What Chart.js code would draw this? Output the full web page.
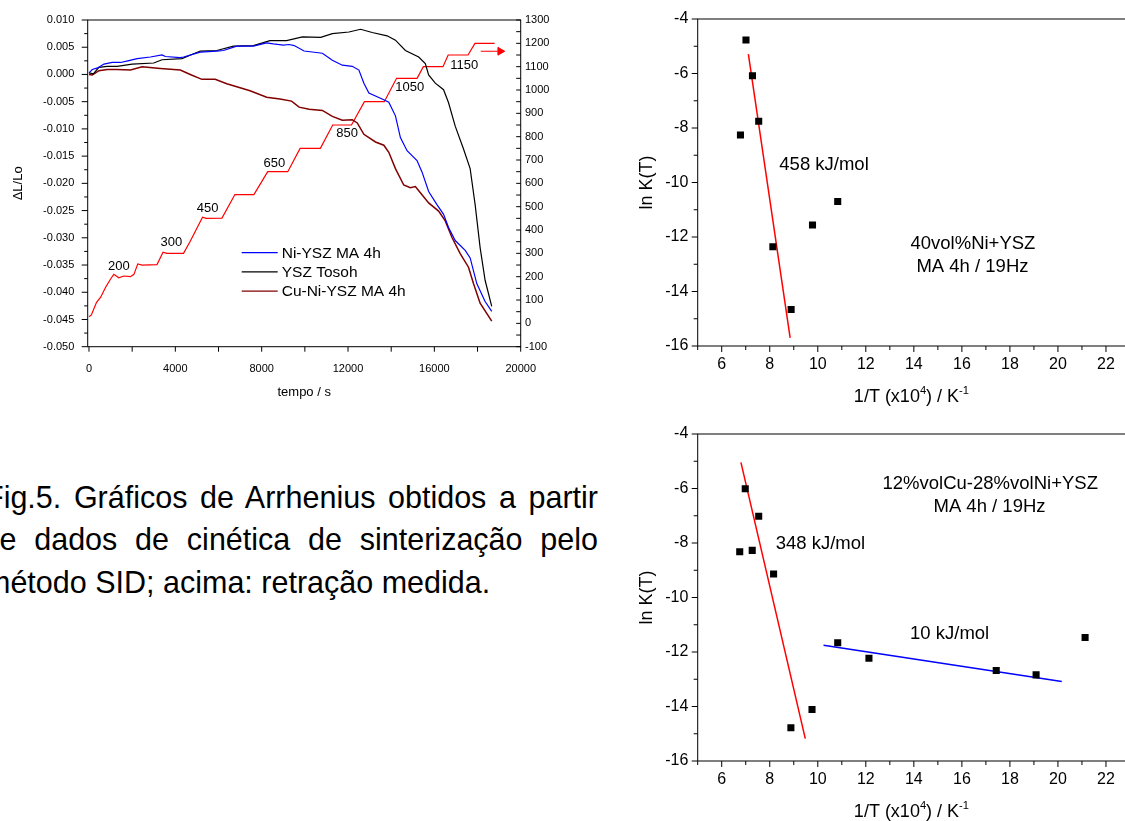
<!DOCTYPE html>
<html>
<head>
<meta charset="utf-8">
<script src="https://cdn.jsdelivr.net/npm/chart.js@4.4.1/dist/chart.umd.min.js"></script>
<style>
  html, body { margin: 0; padding: 0; background: #fff; overflow: hidden; width: 1125px; height: 821px; }
  canvas { position: absolute; }
  #shrink { left: 0; top: 0; }
  #arrTop { left: 620px; top: 0; }
  #arrBot { left: 620px; top: 415px; }
  .cap { position: absolute; left: -15px; width: 613px; font-family: "Liberation Sans", Arial, sans-serif;
         font-size: 30.5px; line-height: 42.5px; color: #000; text-align: justify; }
  .cap.j { text-align-last: justify; }
</style>
</head>
<body>
<canvas id="shrink" width="560" height="410"></canvas>
<canvas id="arrTop" width="520" height="415"></canvas>
<canvas id="arrBot" width="520" height="415"></canvas>
<div class="cap j" style="top:475.75px">Fig.5. Gráficos de Arrhenius obtidos a partir</div>
<div class="cap j" style="top:518.25px;left:-17.5px;width:615.5px">de dados de cinética de sinterização pelo</div>
<div class="cap" style="top:560.75px">método SID; acima: retração medida.</div>

<script>
// dilatometry (left panel)
const niTime = [0, 154, 400, 692, 1077, 1461, 1800, 2230, 2845, 3384, 3538, 4230, 4384, 5153, 5922, 6230, 6845, 7615, 8230, 8538, 9000, 9274, 9505, 9966, 10812, 11274, 11735, 12197, 12504, 12735, 12966, 13582, 13889, 14197, 14427, 14735, 15197, 15427, 15735, 16120, 16427, 16658, 16966, 17428, 17658, 17966, 18351, 18658];
const niShrink = [0.0003, 0.0009, 0.0012, 0.0019, 0.0022, 0.0022, 0.0025, 0.0029, 0.0032, 0.0036, 0.0033, 0.0031, 0.0032, 0.0041, 0.0043, 0.0044, 0.0052, 0.0052, 0.0058, 0.0056, 0.0054, 0.0055, 0.0053, 0.0043, 0.0039, 0.0026, 0.0017, 0.0015, 0.0008, -0.0016, -0.0034, -0.0045, -0.0051, -0.0076, -0.0116, -0.0140, -0.0158, -0.0179, -0.0215, -0.0239, -0.0257, -0.0281, -0.0305, -0.0323, -0.0337, -0.0384, -0.0417, -0.0435];

const yszTime = [0, 200, 461, 846, 1307, 2000, 3000, 3384, 4307, 5153, 5922, 6692, 7615, 8384, 9153, 9889, 10735, 11274, 12043, 12581, 13120, 13812, 14197, 14658, 15274, 15581, 15735, 16043, 16427, 16658, 16966, 17351, 17658, 17889, 18120, 18351, 18658];
const yszShrink = [0.0003, 0.0001, 0.0013, 0.0015, 0.0015, 0.0019, 0.0021, 0.0027, 0.0029, 0.0043, 0.0044, 0.0052, 0.0053, 0.0062, 0.0062, 0.0069, 0.0068, 0.0075, 0.0078, 0.0083, 0.0077, 0.0071, 0.0063, 0.0044, 0.0032, 0.0020, -0.0001, -0.0016, -0.0028, -0.0052, -0.0095, -0.0137, -0.0173, -0.0239, -0.0318, -0.0378, -0.0426];

const cuTime = [0, 154, 461, 846, 1300, 1923, 2461, 3307, 4230, 4692, 5230, 5845, 6384, 7461, 8230, 8845, 9384, 9735, 10197, 10812, 11274, 11735, 12197, 12428, 12735, 13274, 13659, 13889, 14197, 14581, 14889, 15120, 15427, 15735, 16197, 16504, 16812, 17197, 17581, 17812, 18120, 18658];
const cuShrink = [0.0000, -0.0001, 0.0007, 0.0009, 0.0009, 0.0008, 0.0014, 0.0011, 0.0008, 0.0000, -0.0009, -0.0009, -0.0017, -0.0030, -0.0042, -0.0045, -0.0049, -0.0060, -0.0064, -0.0066, -0.0077, -0.0084, -0.0083, -0.0089, -0.0110, -0.0124, -0.0130, -0.0143, -0.0173, -0.0203, -0.0208, -0.0206, -0.0221, -0.0236, -0.0251, -0.0269, -0.0299, -0.0329, -0.0354, -0.0384, -0.0420, -0.0453];

const tempTime = [0, 110, 350, 540, 770, 1000, 1150, 1380, 1610, 1920, 2080, 2260, 2460, 3150, 3430, 3610, 4380, 4690, 5260, 5430, 6160, 6760, 7640, 8280, 9210, 9780, 10720, 11290, 12160, 12760, 13680, 14250, 15200, 15490, 16400, 16640, 17560, 17880, 18790];
const tempValue = [28, 36, 90, 112, 155, 190, 210, 195, 203, 200, 210, 255, 250, 252, 305, 300, 300, 352, 455, 450, 451, 552, 552, 650, 650, 750, 750, 850, 850, 950, 950, 1050, 1050, 1100, 1100, 1150, 1150, 1200, 1200];
const arrowTime = [18150, 19050];
const arrowTemp = [1166, 1166];

const stepLabels = ['200', '300', '450', '650', '850', '1050', '1150'];
const stepLabelTime = [1386, 3815, 5500, 8590, 11960, 14860, 17380];
const stepLabelTemp = [243, 346, 494, 686, 816, 1010, 1105];

// Arrhenius plots (right panels)
const niInvT = [7.01, 7.28, 7.54, 6.78, 8.13, 8.89, 9.78, 10.83];
const niLnK = [-4.77, -6.08, -7.75, -8.26, -12.36, -14.66, -11.56, -10.70];
const niFitInvT = [7.11, 8.85];
const niFitLnK = [-5.29, -15.70];

const cuInvT = [6.98, 7.54, 6.75, 7.27, 8.16, 8.88, 9.76, 10.83, 12.13, 17.43, 19.09, 21.13];
const cuLnK = [-6.01, -7.02, -8.32, -8.27, -9.14, -14.78, -14.11, -11.66, -12.23, -12.68, -12.84, -11.47];
const cuFitHighInvT = [6.80, 9.48];
const cuFitHighLnK = [-5.04, -15.18];
const cuFitLowInvT = [10.24, 20.16];
const cuFitLowLnK = [-11.75, -13.08];

const FONT = "'Liberation Sans', Arial, sans-serif";
Chart.defaults.font.family = FONT;
Chart.defaults.color = '#000';

const pairs = (xs, ys) => xs.map((x, i) => ({ x: x, y: ys[i] }));
const range = (a, b, step) => { const out = []; for (let v = a; v <= b + 1e-9; v += step) out.push(Math.round(v * 1e6) / 1e6); return out; };

// text with raised small parts, e.g. 10^4
function richText(ctx, parts, cx, cy, size) {
  const sub = size * 0.62;
  let w = 0;
  parts.forEach(p => { ctx.font = (p.sup ? sub : size) + 'px ' + FONT; w += ctx.measureText(p.t).width; });
  let x = cx - w / 2;
  ctx.textAlign = 'left';
  parts.forEach(p => {
    ctx.font = (p.sup ? sub : size) + 'px ' + FONT;
    ctx.fillText(p.t, x, p.sup ? cy - size * 0.36 : cy);
    x += ctx.measureText(p.t).width;
  });
}

// frame + outward/inward tick marks + free text, all placed through the chart scales
function decor(marks, notes, extra) {
  return {
    id: 'decor',
    afterDraw(chart) {
      const ctx = chart.ctx, a = chart.chartArea;
      ctx.save();
      ctx.strokeStyle = '#000';
      ctx.lineWidth = 1;
      ctx.strokeRect(a.left, a.top, a.right - a.left, a.bottom - a.top);
      marks.forEach(m => {
        const s = chart.scales[m.id];
        m.values.forEach(v => {
          const p = s.getPixelForValue(v);
          ctx.beginPath();
          if (s.position === 'bottom') { ctx.moveTo(p, a.bottom); ctx.lineTo(p, a.bottom + m.len); }
          else if (s.position === 'left') { ctx.moveTo(a.left, p); ctx.lineTo(a.left - m.len, p); }
          else { ctx.moveTo(a.right, p); ctx.lineTo(a.right + m.len, p); }
          ctx.stroke();
        });
      });
      ctx.fillStyle = '#000';
      ctx.textAlign = 'center';
      ctx.textBaseline = 'middle';
      notes.forEach(n => {
        ctx.font = n.size + 'px ' + FONT;
        ctx.fillText(n.text, chart.scales[n.xs].getPixelForValue(n.x), chart.scales[n.ys].getPixelForValue(n.y));
      });
      if (extra) extra(ctx, chart);
      ctx.restore();
    }
  };
}

// ---------- left: shrinkage + temperature ----------
const shrinkNotes = stepLabels.map((t, i) => ({ text: t, x: stepLabelTime[i], y: stepLabelTemp[i], xs: 'x', ys: 'yT', size: 13 }));
const legendItems = [['Ni-YSZ MA 4h', '#0000ff'], ['YSZ Tosoh', '#000000'], ['Cu-Ni-YSZ MA 4h', '#800000']];

new Chart(document.getElementById('shrink'), {
  type: 'scatter',
  data: {
    datasets: [
      { label: 'Ni-YSZ MA 4h', data: pairs(niTime, niShrink), borderColor: '#0000ff', yAxisID: 'y' },
      { label: 'YSZ Tosoh', data: pairs(yszTime, yszShrink), borderColor: '#000000', yAxisID: 'y' },
      { label: 'Cu-Ni-YSZ MA 4h', data: pairs(cuTime, cuShrink), borderColor: '#800000', borderWidth: 1.5, yAxisID: 'y' },
      { label: 'T', data: pairs(tempTime, tempValue), borderColor: '#ff0000', yAxisID: 'yT' },
      { label: 'arrow', data: pairs(arrowTime, arrowTemp), borderColor: '#ff0000', backgroundColor: '#ff0000',
        yAxisID: 'yT', pointRadius: [0, 4.5], pointStyle: 'triangle', pointRotation: 90, pointBorderWidth: 1 }
    ].map(d => Object.assign({ showLine: true, pointRadius: 0, borderWidth: 1.2 }, d))
  },
  options: {
    responsive: false, animation: false, devicePixelRatio: 1,
    layout: { padding: { top: 15, left: 0, right: 0, bottom: 0 } },
    plugins: { legend: { display: false }, tooltip: { enabled: false } },
    scales: {
      x: {
        type: 'linear', position: 'bottom', min: -60, max: 20000,
        afterBuildTicks: s => { s.ticks = range(0, 20000, 4000).map(v => ({ value: v })); },
        afterFit: s => { s.height = 63.3; },
        grid: { display: false, drawTicks: false }, border: { display: false },
        ticks: { font: { size: 11 }, padding: 15.5, maxRotation: 0, autoSkip: false, callback: v => String(v) },
        title: { display: true, text: 'tempo / s', font: { size: 13 }, padding: { top: 0, bottom: 10.2 } }
      },
      y: {
        type: 'linear', position: 'left', min: -0.05, max: 0.01,
        afterBuildTicks: s => { s.ticks = range(-50, 10, 5).map(v => ({ value: v / 1000 })); },
        afterFit: s => { s.width = 87.7; },
        grid: { display: false, drawTicks: false }, border: { display: false },
        ticks: { font: { size: 11 }, padding: 13.4, autoSkip: false,
                 callback: v => Math.abs(v) < 1e-9 ? '0.000' : v.toFixed(3) },
        title: { display: true, text: 'ΔL/Lo', font: { size: 13 }, padding: { top: 10.2, bottom: 0 } }
      },
      yT: {
        type: 'linear', position: 'right', min: -100, max: 1300,
        afterBuildTicks: s => { s.ticks = range(-100, 1300, 100).map(v => ({ value: v })); },
        afterFit: s => { s.width = 39.3; },
        grid: { display: false, drawTicks: false }, border: { display: false },
        ticks: { font: { size: 11 }, padding: 4.3, autoSkip: false, callback: v => String(v) }
      }
    }
  },
  plugins: [decor([
    { id: 'x', values: range(0, 20000, 2000), len: 5 },
    { id: 'y', values: range(-50, 10, 5).map(v => v / 1000), len: 6 },
    { id: 'y', values: range(-47.5, 7.5, 5).map(v => v / 1000), len: 3.5 },
    { id: 'yT', values: range(-100, 1300, 50), len: -4.5 }
  ], shrinkNotes, (ctx) => {
    ctx.font = '15.5px ' + FONT;
    ctx.textAlign = 'left';
    legendItems.forEach((it, i) => {
      const y = 252.7 + i * 19.2;
      ctx.strokeStyle = it[1];
      ctx.lineWidth = 1.2;
      ctx.beginPath(); ctx.moveTo(241.7, y); ctx.lineTo(277.7, y); ctx.stroke();
      ctx.fillStyle = '#000';
      ctx.fillText(it[0], 281.7, y + 1);
    });
  })]
});

// ---------- right: Arrhenius plots ----------
const invTTitle = [{ t: '1/T (x10' }, { t: '4', sup: true }, { t: ') / K' }, { t: '-1', sup: true }];

function arrhenius(id, invT, lnK, fits, notes) {
  const datasets = [{ label: 'ln K', data: pairs(invT, lnK), pointStyle: 'rect', pointRadius: 5,
                      backgroundColor: '#000', borderColor: '#000', borderWidth: 0, showLine: false }];
  fits.forEach(f => datasets.push({ label: f.label, data: pairs(f.xs, f.ys), borderColor: f.color,
                                   borderWidth: 1.5, pointRadius: 0, showLine: true }));
  new Chart(document.getElementById(id), {
    type: 'scatter',
    data: { datasets: datasets },
    options: {
      responsive: false, animation: false, devicePixelRatio: 1,
      layout: { padding: { top: 15.3, left: 0, right: 10, bottom: 0 } },
      plugins: { legend: { display: false }, tooltip: { enabled: false } },
      scales: {
        x: {
          type: 'linear', position: 'bottom', min: 5, max: 23,
          afterBuildTicks: s => { s.ticks = range(6, 22, 2).map(v => ({ value: v })); },
          afterFit: s => { s.height = 69; },
          grid: { display: false, drawTicks: false }, border: { display: false },
          ticks: { font: { size: 16 }, padding: 8.7, maxRotation: 0, autoSkip: false }
        },
        y: {
          type: 'linear', position: 'left', min: -16, max: -4,
          afterBuildTicks: s => { s.ticks = range(-16, -4, 2).map(v => ({ value: v })); },
          afterFit: s => { s.width = 77.7; },
          grid: { display: false, drawTicks: false }, border: { display: false },
          ticks: { font: { size: 16 }, padding: 9.4, autoSkip: false },
          title: { display: true, text: 'ln K(T)', font: { size: 18 }, padding: { top: 15.9, bottom: 0 } }
        }
      }
    },
    plugins: [decor([
      { id: 'x', values: range(6, 22, 2), len: 6 },
      { id: 'x', values: range(5, 23, 2), len: 4 },
      { id: 'y', values: range(-16, -4, 2), len: 6 },
      { id: 'y', values: range(-15, -5, 2), len: 4 }
    ], notes.map(n => Object.assign({ xs: 'x', ys: 'y', size: 18.5 }, n)), (ctx, chart) => {
      richText(ctx, invTTitle, chart.scales.x.getPixelForValue(13.9), chart.chartArea.bottom + 51, 18);
    })]
  });
}

arrhenius('arrTop', niInvT, niLnK,
  [{ label: '458 kJ/mol', xs: niFitInvT, ys: niFitLnK, color: '#ff0000' }],
  [{ text: '458 kJ/mol', x: 10.26, y: -9.37 },
   { text: '40vol%Ni+YSZ', x: 16.46, y: -12.25 },
   { text: 'MA 4h / 19Hz', x: 16.44, y: -13.09 }]);

arrhenius('arrBot', cuInvT, cuLnK,
  [{ label: '348 kJ/mol', xs: cuFitHighInvT, ys: cuFitHighLnK, color: '#ff0000' },
   { label: '10 kJ/mol', xs: cuFitLowInvT, ys: cuFitLowLnK, color: '#0000ff' }],
  [{ text: '12%volCu-28%volNi+YSZ', x: 17.18, y: -5.83 },
   { text: 'MA 4h / 19Hz', x: 17.15, y: -6.69 },
   { text: '348 kJ/mol', x: 10.11, y: -8.04 },
   { text: '10 kJ/mol', x: 15.49, y: -11.32 }]);
</script>
</body>
</html>
